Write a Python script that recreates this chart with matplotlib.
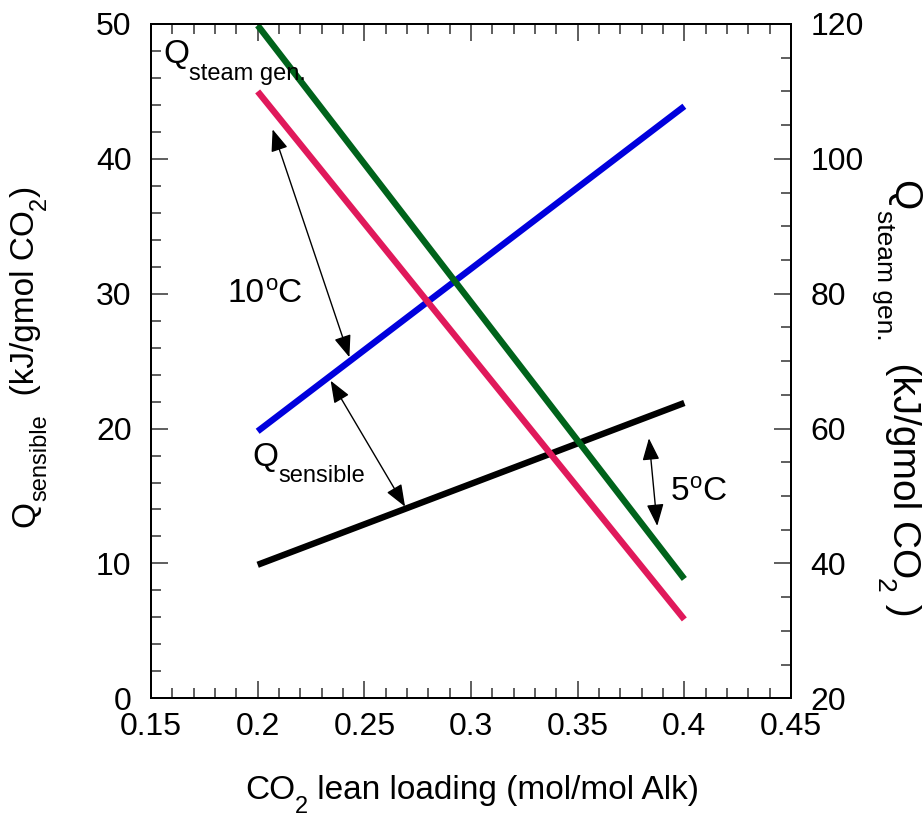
import matplotlib
matplotlib.use("Agg")
import numpy as np
import matplotlib.pyplot as plt
from matplotlib.ticker import MultipleLocator
from matplotlib.transforms import IdentityTransform

plt.rcParams['font.family'] = ['Liberation Sans', 'DejaVu Sans']

# CO2 lean loading (mol/mol Alk)
loading = [0.2, 0.4]
# Sensible heat, left axis (kJ/gmol CO2)
q_sens_10C = [19.8, 43.9]
q_sens_5C = [9.9, 21.9]
# Steam generation heat, right axis (kJ/gmol CO2)
q_steam_10C = [110.0, 31.7]
q_steam_5C = [119.8, 37.7]

x_ticks = [0.15, 0.2, 0.25, 0.3, 0.35, 0.4, 0.45]
x_tick_labels = ['0.15', '0.2', '0.25', '0.3', '0.35', '0.4', '0.45']
left_ticks = [0, 10, 20, 30, 40, 50]
right_ticks = [20, 40, 60, 80, 100, 120]

TICK_FS = 23
FS = 24
SUB = 17
LW = 4.6

W, H = 924, 817
fig = plt.figure(figsize=(W / 100, H / 100), dpi=100)
x0, x1, y0, y1 = 151, 791, 24, 698.3
ax = fig.add_axes([x0 / W, 1 - y1 / H, (x1 - x0) / W, (y1 - y0) / H])
ax2 = ax.twinx()

ax.plot(loading, q_sens_10C, color='#0000dd', lw=LW, solid_capstyle='butt', zorder=3)
ax.plot(loading, q_sens_5C, color='black', lw=LW, solid_capstyle='butt', zorder=3)
ax2.plot(loading, q_steam_10C, color='#e0195b', lw=LW, solid_capstyle='butt')
ax2.plot(loading, q_steam_5C, color='#00631b', lw=LW, solid_capstyle='butt')

ax.set_xlim(0.15, 0.45)
ax.set_ylim(0, 50)
ax2.set_ylim(20, 120)

ax.set_xticks(x_ticks)
ax.set_xticklabels(x_tick_labels)
ax.xaxis.set_minor_locator(MultipleLocator(0.01))
ax.set_yticks(left_ticks)
ax.yaxis.set_minor_locator(MultipleLocator(2))
ax2.set_yticks(right_ticks)
ax2.yaxis.set_minor_locator(MultipleLocator(5))

for a in (ax, ax2):
    for s in a.spines.values():
        s.set_linewidth(1.4)
        s.set_color('black')

ax.tick_params(axis='x', which='both', direction='in', top=True, bottom=True,
               labelsize=TICK_FS, pad=10, color='#333333')
ax.tick_params(axis='y', which='both', direction='in', left=True, right=False,
               labelsize=TICK_FS, pad=14, color='#333333')
ax2.tick_params(axis='y', which='both', direction='in', left=False, right=True,
                labelsize=TICK_FS, pad=14, color='#333333')
for a in (ax, ax2):
    a.tick_params(which='major', length=12, width=1.1)
    a.tick_params(which='minor', length=7, width=1.1)

renderer = fig.canvas.get_renderer()


def rich_text(x, y, pieces, rotation=0):
    """Lay out (text, size, baseline shift in px) pieces starting at pixel (x, y from top)."""
    th = np.deg2rad(rotation)
    d = np.array([np.cos(th), np.sin(th)])
    up = np.array([-np.sin(th), np.cos(th)])
    pos = np.array([x, H - y], dtype=float)
    for s, size, shift in pieces:
        p = pos + up * shift
        fig.text(p[0], p[1], s, fontsize=size, rotation=rotation,
                 rotation_mode='anchor', ha='left', va='baseline',
                 transform=IdentityTransform())
        probe = fig.text(0, 0, s, fontsize=size, transform=IdentityTransform())
        w = probe.get_window_extent(renderer).width
        probe.remove()
        pos = pos + d * w


# Axis titles
rich_text(245, 799, [('CO', FS, 0), ('2', SUB, -14),
                     (' lean loading (mol/mol Alk)', FS, 0)])
rich_text(34, 527, [('Q', FS, 0), ('sensible', SUB, -12),
                    ('  (kJ/gmol CO', FS, 0), ('2', SUB, -12), (')', FS, 0)],
          rotation=90)
rich_text(893, 180, [('Q', 28, 0), ('steam gen.', 19, -16),
                     ('  (kJ/gmol CO', 28, 0), ('2', 19, -16), (' )', 28, 0)],
          rotation=-90)

# In-plot labels
rich_text(163, 63, [('Q', FS, 0), ('steam gen.', SUB, -17)])
rich_text(252, 466, [('Q', FS, 0), ('sensible', SUB, -16)])
rich_text(228, 302, [('10', FS, 0), ('o', 16, 12), ('C', FS, 0)])
rich_text(671, 500, [('5', FS, 0), ('o', 16, 12), ('C', FS, 0)])

# Temperature-difference arrows (left-axis units, mapped onto the right axis)
arrow_kw = dict(arrowstyle='<|-|>,head_length=0.9,head_width=0.35', color='black',
                lw=1.0, shrinkA=0, shrinkB=0, mutation_scale=15)
arrow_ends = [((0.2070, 42.19), (0.2430, 25.29)),
              ((0.2342, 23.55), (0.2691, 14.21)),
              ((0.3834, 19.28), (0.3873, 12.78))]
for (xa, ya), (xb, yb) in arrow_ends:
    ax2.annotate('', xy=(xa, 20 + ya * 2), xytext=(xb, 20 + yb * 2),
                 arrowprops=arrow_kw)

fig.savefig('out.png', dpi=100)
